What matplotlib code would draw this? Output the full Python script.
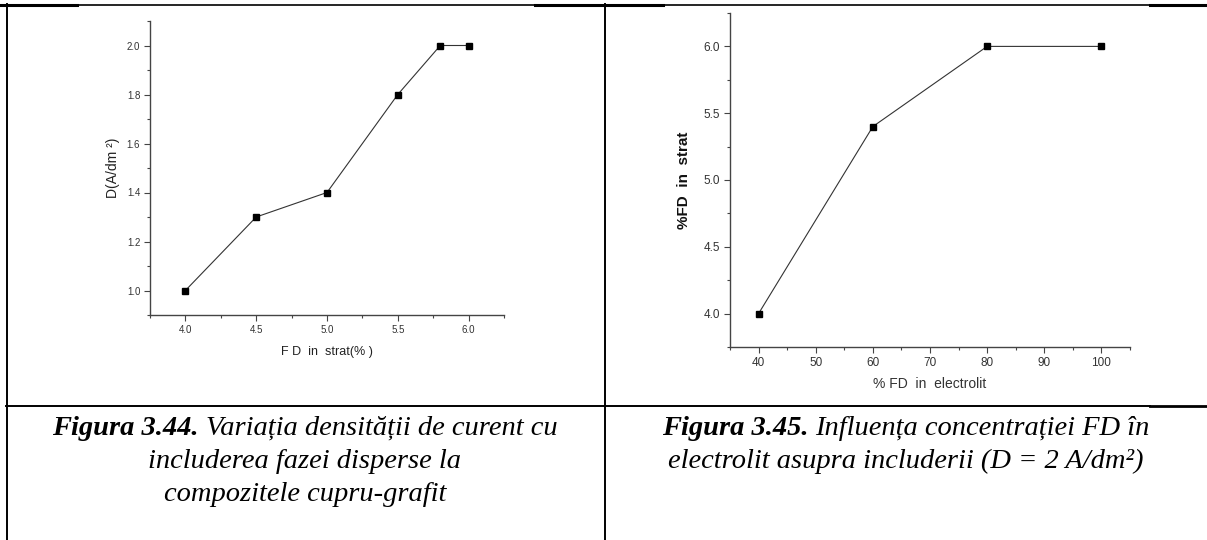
import matplotlib.pyplot as plt
from matplotlib.ticker import MultipleLocator

# left chart: D vs FD in layer
fd_strat = [4.0, 4.5, 5.0, 5.5, 5.8, 6.0]
dens = [1.0, 1.3, 1.4, 1.8, 2.0, 2.0]

# right chart: FD in layer vs FD in electrolyte
fd_electrolit = [40, 60, 80, 100]
fd_in_strat = [4.0, 5.4, 6.0, 6.0]

W, H = 1207, 540
plt.rcParams['font.family'] = ['Liberation Sans', 'DejaVu Sans']
fig = plt.figure(figsize=(W / 100, H / 100), dpi=100)


def px_axes(x0, y0, x1, y1):
    # axes box from pixel corners (top-left origin)
    return fig.add_axes([x0 / W, 1 - y1 / H, (x1 - x0) / W, (y1 - y0) / H])


def style(ax, fs):
    for s in ['top', 'right']:
        ax.spines[s].set_visible(False)
    for s in ['left', 'bottom']:
        ax.spines[s].set_color('#444444')
        ax.spines[s].set_linewidth(1.0)
    ax.tick_params(which='major', direction='out', length=4, width=0.8,
                   color='#444444', labelsize=fs, labelcolor='#333333', pad=3)
    ax.tick_params(which='minor', direction='out', length=2.5, width=0.8,
                   color='#444444')


ax1 = px_axes(150, 21, 504, 315)
ax1.plot(fd_strat, dens, color='#333333', lw=0.8, marker='s', ms=5,
         mfc='black', mec='black')
ax1.set_xlim(3.75, 6.25)
ax1.set_ylim(0.9, 2.1)
ax1.xaxis.set_major_locator(MultipleLocator(0.5))
ax1.xaxis.set_minor_locator(MultipleLocator(0.25))
ax1.yaxis.set_major_locator(MultipleLocator(0.2))
ax1.yaxis.set_minor_locator(MultipleLocator(0.1))
ax1.xaxis.set_major_formatter(lambda v, p: f'{v:.1f}')
ax1.yaxis.set_major_formatter(lambda v, p: f'{v:.1f}')
style(ax1, 7)
ax1.set_xlabel('F D  in  strat(% )', fontsize=9, color='#222222', labelpad=8)
ax1.set_ylabel('D(A/dm ²)', fontsize=10, color='#222222', labelpad=5)

ax2 = px_axes(730, 13, 1130, 347)
ax2.plot(fd_electrolit, fd_in_strat, color='#333333', lw=0.8, marker='s', ms=5,
         mfc='black', mec='black')
ax2.set_xlim(35, 105)
ax2.set_ylim(3.75, 6.25)
ax2.xaxis.set_major_locator(MultipleLocator(10))
ax2.xaxis.set_minor_locator(MultipleLocator(5))
ax2.yaxis.set_major_locator(MultipleLocator(0.5))
ax2.yaxis.set_minor_locator(MultipleLocator(0.25))
ax2.yaxis.set_major_formatter(lambda v, p: f'{v:.1f}')
style(ax2, 8.5)
ax2.set_xlabel('% FD  in  electrolit', fontsize=10, color='#333333', labelpad=6)
ax2.set_ylabel('%FD  in  strat', fontsize=11, fontweight='bold', color='#111111',
               labelpad=9)


# table frame lines (pixel coordinates)
def hline(x0, x1, y, lw):
    fig.add_artist(plt.Line2D([x0 / W, x1 / W], [1 - y / H, 1 - y / H],
                              color='black', lw=lw))


def vline(x, y0, y1, lw):
    fig.add_artist(plt.Line2D([x / W, x / W], [1 - y0 / H, 1 - y1 / H],
                              color='black', lw=lw))


hline(0, 77, 5, 2.2)
hline(77, 535, 4.5, 1.2)
hline(535, 663, 5, 2.2)
hline(663, 1150, 4.5, 1.2)
hline(1150, 1207, 5, 2.2)
vline(6.5, 4, 540, 1.4)
vline(605, 4, 540, 1.4)
hline(6, 1150, 406, 1.4)
hline(1150, 1207, 406, 2.0)

# captions: bold lead + italic text, centred per line
cap = dict(fontsize=20.5, family=['Liberation Serif', 'DejaVu Serif'],
           style='italic', va='baseline', ha='left')
renderer = fig.canvas.get_renderer()


def caption_line(xc, y, text, lead=''):
    parts = []
    if lead:
        parts.append(fig.text(0, 0, lead, weight='bold', **cap))
    parts.append(fig.text(0, 0, text, **cap))
    widths = [p.get_window_extent(renderer).width for p in parts]
    gap = 7 if lead else 0
    x = xc - (sum(widths) + gap) / 2
    for p, w in zip(parts, widths):
        p.set_position((x / W, 1 - y / H))
        x += w + gap


caption_line(305, 435, 'Variația densității de curent cu', 'Figura 3.44.')
caption_line(305, 468, 'includerea fazei disperse la')
caption_line(305, 501, 'compozitele cupru-grafit')
caption_line(906, 435, 'Influența concentrației FD în', 'Figura 3.45.')
caption_line(906, 468, 'electrolit asupra includerii (D = 2 A/dm²)')

fig.savefig('out.png', dpi=100)
